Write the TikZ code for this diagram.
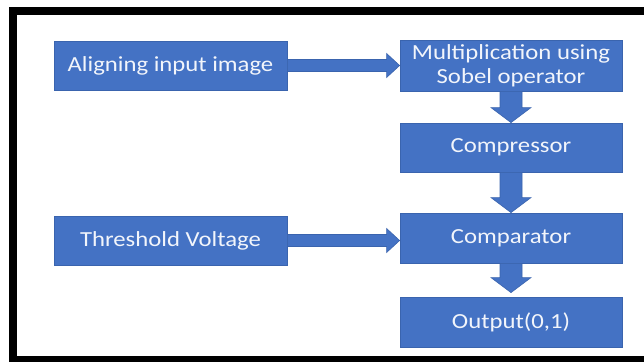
\documentclass[tikz,border=0pt]{standalone}
\usepackage{fontspec}
\setmainfont[FakeStretch=1.15]{Carlito}
\usetikzlibrary{calc}
\definecolor{boxblue}{HTML}{4472C4}
\definecolor{boxedge}{HTML}{3A64AE}
\definecolor{txt}{HTML}{F2F5FB}
\tikzset{
  blk/.style={draw=boxedge, line width=0.8pt, fill=boxblue, text=txt, minimum width=222pt, minimum height=50pt, inner sep=0pt, align=center, font=\fontsize{21.5}{24}\selectfont},
  wideblk/.style={blk, minimum width=233pt, minimum height=49pt},
  arr/.style={fill=boxblue, draw=boxedge, line width=0.6pt, line join=miter}
}
\newcommand\rightblock[2]{%
  \path (#1.east) coordinate (s) (#2.west |- #1.east) coordinate (e);
  \draw[arr] ($(s)+(0,6)$) -- ($(e)+(-13,6)$) -- ($(e)+(-13,12)$) -- (e) -- ($(e)+(-13,-12)$) -- ($(e)+(-13,-6)$) -- ($(s)+(0,-6)$) -- cycle;}
\newcommand\downblock[3]{%
  \path (#1.south) coordinate (s) ($(#2.north)+(0,-#3)$) coordinate (e);
  \draw[arr] ($(s)+(-11,0)$) -- ($(e)+(-11,-15)$) -- ($(e)+(-20,-15)$) -- (e) -- ($(e)+(20,-15)$) -- ($(e)+(11,-15)$) -- ($(s)+(11,0)$) -- cycle;}
\begin{document}
\begin{tikzpicture}[x=1pt,y=-1pt]
\useasboundingbox (0,0) rectangle (644,361);
\fill[white] (0,0) rectangle (644,361);
\begin{scope}
\clip (0,0) rectangle (644,361);
\draw[line width=8pt] (13,11) rectangle (660,360);
\end{scope}
\node[wideblk] (align) at (170.5,65.5) {Aligning input image};
\node[blk, minimum height=51pt] (sobel) at (511,65.5) {Multiplication using\\Sobel operator};
\node[blk, minimum height=49pt] (comp) at (511,147.5) {Compressor};
\node[blk] (cmp) at (511,238) {Comparator};
\node[blk] (out) at (511,322) {Output(0,1)};
\node[wideblk] (thr) at (170.5,240.5) {Threshold Voltage};
\rightblock{align}{sobel}
\rightblock{thr}{cmp}
\downblock{sobel}{comp}{0}
\downblock{comp}{cmp}{0}
\downblock{cmp}{out}{4}
\end{tikzpicture}
\end{document}
